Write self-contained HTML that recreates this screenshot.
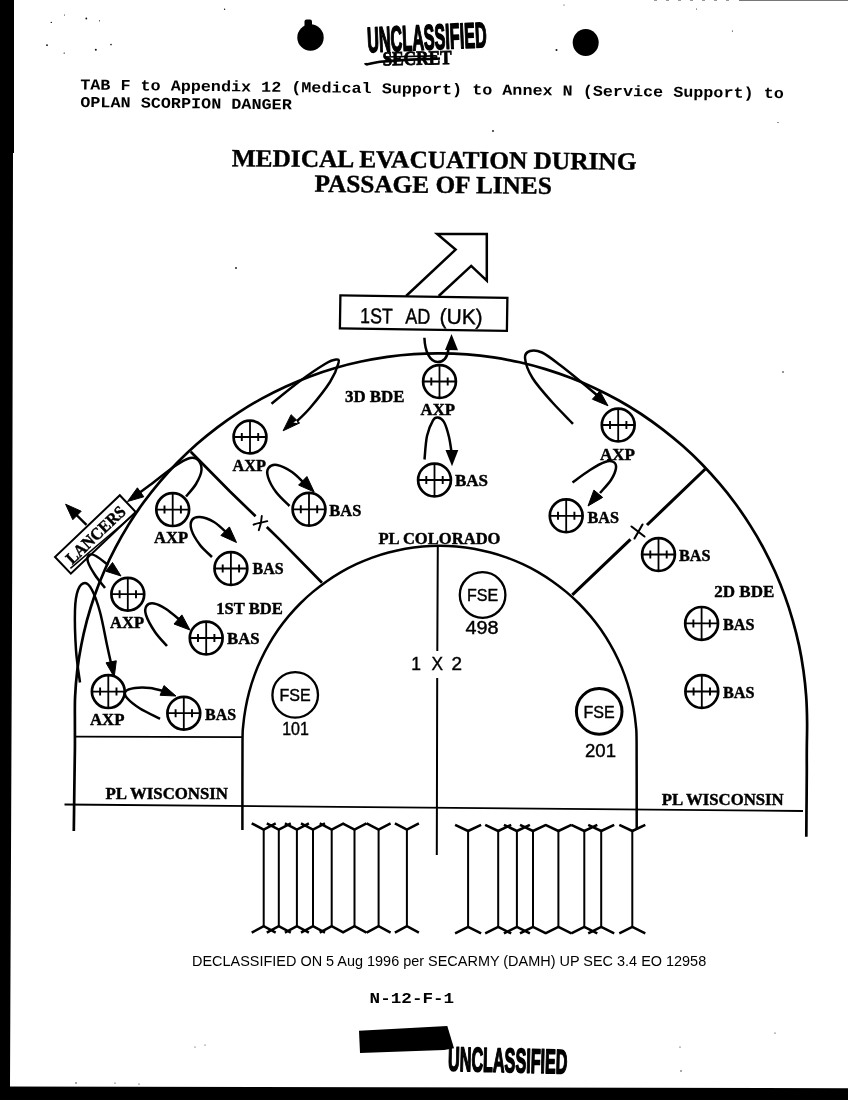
<!DOCTYPE html>
<html lang="en"><head><meta charset="utf-8"><title>Medical Evacuation During Passage of Lines</title>
<style>html,body{margin:0;padding:0;background:#fff}svg{display:block;will-change:transform}text{fill:#000}</style></head>
<body>
<svg width="848" height="1100" viewBox="0 0 848 1100">
<rect width="848" height="1100" fill="#fff"/>
<polygon points="0,0 14,0 14,153 13,153 12.3,550 10,1087 0,1087" fill="#000"/>
<polygon points="0,1086.5 848,1088.3 848,1100 0,1100" fill="#000"/>
<circle cx="310.5" cy="37.5" r="13.2" fill="#000"/><rect x="304.5" y="19.5" width="7.5" height="8" rx="2" fill="#000"/>
<ellipse cx="585.7" cy="42.5" rx="13" ry="13.5" fill="#000"/>
<g transform="rotate(-2.5 367.5 53)">
<text x="367.8" y="52.2" font-family="'Liberation Sans',Arial,sans-serif" font-size="35.5" font-weight="bold" text-anchor="start" textLength="119.5" lengthAdjust="spacingAndGlyphs" stroke="#000" stroke-width="1.7" stroke-linejoin="round">UNCLASSIFIED</text>
</g>
<g transform="rotate(-1.2 416 58)">
<text x="382.5" y="64.8" font-family="'Liberation Serif','Times New Roman',serif" font-size="20.0" font-weight="bold" text-anchor="start" textLength="69.0" lengthAdjust="spacingAndGlyphs" stroke="#000" stroke-width="0.8">SECRET</text>
<path d="M365 62 C366 65 370 62 380 61 C400 59.5 420 59.5 440 59" stroke="#000" stroke-width="2.6" fill="none"/>
<path d="M384 56.3 H436" stroke="#000" stroke-width="1.6" fill="none"/>
</g>
<g transform="rotate(0.7 81 89.5)">
<text x="80.2" y="89.5" font-family="'Liberation Mono','Courier New',monospace" font-size="15.2" font-weight="bold" text-anchor="start" textLength="703.6" lengthAdjust="spacingAndGlyphs" >TAB F to Appendix 12 (Medical Support) to Annex N (Service Support) to</text>
<text x="80.4" y="106.9" font-family="'Liberation Mono','Courier New',monospace" font-size="15.2" font-weight="bold" text-anchor="start" textLength="211.6" lengthAdjust="spacingAndGlyphs" >OPLAN SCORPION DANGER</text>
</g>
<g transform="rotate(0.5 232 166)">
<text x="231.7" y="166.2" font-family="'Liberation Serif','Times New Roman',serif" font-size="24.8" font-weight="bold" text-anchor="start" textLength="404.7" lengthAdjust="spacingAndGlyphs" stroke="#000" stroke-width="0.4">MEDICAL EVACUATION DURING</text>
<text x="314.7" y="191.1" font-family="'Liberation Serif','Times New Roman',serif" font-size="24.8" font-weight="bold" text-anchor="start" textLength="237.3" lengthAdjust="spacingAndGlyphs" stroke="#000" stroke-width="0.4">PASSAGE OF LINES</text>
</g>
<path d="M406.1 296 L455.6 249.6 L437.2 234 L486.8 234 L486.8 280.7 L471.2 265.9 L438.7 296" fill="none" stroke="#000" stroke-width="2.5" stroke-linejoin="miter"/>
<g transform="rotate(0.85 340 295.4)">
<rect x="340.4" y="295.4" width="167" height="33" fill="#fff" stroke="#000" stroke-width="2.3"/>
<text font-family="'Liberation Sans',Arial,sans-serif" font-size="21.5" stroke="#000" stroke-width="0.4"><tspan x="360.4" y="322.8" textLength="32.5" lengthAdjust="spacingAndGlyphs">1ST</tspan> <tspan x="405.6" y="322.6" textLength="25" lengthAdjust="spacingAndGlyphs">AD</tspan> <tspan x="440" y="322.2" textLength="43" lengthAdjust="spacingAndGlyphs">(UK)</tspan></text>
</g>
<path d="M73.8 831.0 C73.8 825.8 74.1 810.2 74.2 800.0 C74.3 789.8 74.5 778.3 74.6 770.0 C74.7 761.7 74.8 758.0 74.9 750.0 C75.0 742.0 74.9 731.1 74.9 722.2 C74.9 713.3 74.7 705.1 75.1 696.6 C75.5 688.0 76.2 679.5 77.2 670.9 C78.2 662.4 79.5 653.9 81.2 645.4 C82.8 636.9 84.8 628.5 87.0 620.1 C89.3 611.8 91.9 603.5 94.7 595.3 C97.6 587.1 100.8 579.0 104.3 571.0 C107.7 563.0 111.5 555.1 115.6 547.4 C119.6 539.7 124.0 532.1 128.6 524.6 C133.2 517.2 138.1 509.9 143.3 502.8 C148.5 495.7 153.9 488.8 159.6 482.1 C165.3 475.4 171.2 468.8 177.4 462.5 C183.6 456.3 190.0 450.2 196.6 444.3 C203.2 438.5 210.1 432.9 217.1 427.6 C224.2 422.2 231.4 417.1 238.8 412.3 C246.3 407.5 253.9 402.9 261.7 398.6 C269.4 394.4 277.4 390.4 285.4 386.7 C293.5 383.0 301.7 379.5 310.0 376.4 C318.3 373.3 326.8 370.5 335.3 368.0 C343.8 365.5 352.4 363.3 361.1 361.5 C369.8 359.6 378.6 358.1 387.3 356.8 C396.1 355.6 405.0 354.7 413.9 354.1 C422.7 353.5 431.6 353.2 440.5 353.3 C449.4 353.3 458.3 353.7 467.1 354.4 C476.0 355.1 484.8 356.1 493.6 357.4 C502.3 358.7 511.1 360.4 519.7 362.3 C528.4 364.3 536.9 366.6 545.4 369.1 C553.9 371.7 562.3 374.6 570.5 377.8 C578.8 380.9 586.9 384.4 594.9 388.2 C602.9 391.9 610.8 396.0 618.5 400.3 C626.2 404.6 633.7 409.2 641.1 414.0 C648.4 418.9 655.6 424.0 662.6 429.3 C669.6 434.7 676.4 440.3 682.9 446.1 C689.5 451.9 695.9 458.0 702.0 464.2 C708.1 470.5 714.0 477.0 719.6 483.7 C725.3 490.3 730.7 497.2 735.9 504.2 C741.0 511.3 745.9 518.5 750.5 525.9 C755.2 533.2 759.6 540.8 763.6 548.4 C767.7 556.1 771.5 563.9 775.1 571.8 C778.6 579.7 781.9 587.8 784.8 595.9 C787.8 604.0 790.4 612.2 792.8 620.5 C795.2 628.8 797.3 637.2 799.1 645.6 C800.9 654.0 802.3 662.5 803.5 671.0 C804.7 679.5 805.6 688.0 806.2 696.6 C806.8 705.1 807.0 713.3 807.1 722.2 C807.2 731.1 806.8 742.0 806.8 750.0 C806.7 758.0 806.8 761.7 806.8 770.0 C806.8 778.3 806.7 788.9 806.6 800.0 C806.5 811.1 806.3 830.7 806.3 836.8" fill="none" stroke="#000" stroke-width="2.7" />
<path d="M242.4 830.0 C242.4 815.5 242.4 760.2 242.5 742.8 C242.6 725.4 242.8 731.3 243.2 725.6 C243.7 719.9 244.5 714.2 245.5 708.6 C246.5 702.9 247.7 697.3 249.2 691.8 C250.7 686.3 252.4 680.8 254.4 675.4 C256.3 670.0 258.5 664.7 261.0 659.5 C263.4 654.3 266.0 649.2 268.9 644.3 C271.8 639.3 274.9 634.5 278.1 629.8 C281.4 625.1 284.9 620.5 288.6 616.1 C292.3 611.8 296.2 607.5 300.2 603.5 C304.3 599.4 308.5 595.5 312.9 591.9 C317.3 588.2 321.8 584.7 326.5 581.4 C331.2 578.1 336.1 575.0 341.0 572.1 C346.0 569.3 351.1 566.6 356.3 564.2 C361.5 561.8 366.8 559.6 372.2 557.6 C377.5 555.7 383.0 553.9 388.5 552.5 C394.1 551.0 399.7 549.7 405.3 548.7 C411.0 547.7 416.7 547.0 422.4 546.5 C428.1 546.0 433.8 545.8 439.6 545.8 C445.3 545.8 451.0 546.0 456.7 546.5 C462.4 547.0 468.1 547.7 473.8 548.7 C479.4 549.7 485.0 551.0 490.6 552.5 C496.1 553.9 501.6 555.7 506.9 557.6 C512.3 559.6 517.6 561.8 522.8 564.2 C528.0 566.6 533.1 569.3 538.1 572.1 C543.0 575.0 547.9 578.1 552.6 581.4 C557.3 584.7 561.8 588.2 566.2 591.9 C570.6 595.5 574.8 599.4 578.9 603.5 C582.9 607.5 586.8 611.8 590.5 616.1 C594.2 620.5 597.7 625.1 601.0 629.8 C604.2 634.5 607.3 639.3 610.2 644.3 C613.1 649.2 615.7 654.3 618.1 659.5 C620.6 664.7 622.8 670.0 624.7 675.4 C626.7 680.8 628.4 686.3 629.9 691.8 C631.4 697.3 632.6 702.9 633.6 708.6 C634.6 714.2 635.4 719.9 635.9 725.6 C636.3 731.3 636.5 725.7 636.6 742.8 C636.7 759.9 636.7 813.8 636.7 828.0" fill="none" stroke="#000" stroke-width="2.5" />
<path d="M437.8 545 L437.3 651 M437.2 678 L436.8 855" fill="none" stroke="#000" stroke-width="2" />
<path d="M64.5 804.5 L803 811" fill="none" stroke="#000" stroke-width="1.8" />
<path d="M75 736.6 L243 737.2" fill="none" stroke="#000" stroke-width="1.7" />
<path d="M190.75 451.7 L230 491.5 L255.6 516.3 M266.8 527 L280 539.9 L322 582.8" fill="none" stroke="#000" stroke-width="2.7" />
<path d="M253.6 524.7 C258 522.5 263 522.5 267.3 521.2 M261.8 516 C261.5 521 260.5 526 258.8 530.2" fill="none" stroke="#000" stroke-width="1.9" stroke-linecap="round"/>
<path d="M705.3 469 L647 525 M630.5 539.3 L572.3 594.8" fill="none" stroke="#000" stroke-width="3.1" />
<path d="M631.5 526.5 L644.5 536.5 M642.5 524.5 L634.5 538.5" fill="none" stroke="#000" stroke-width="2.1" stroke-linecap="round"/>
<g transform="translate(439.5 381.5)"><circle r="16.4" fill="none" stroke="#000" stroke-width="2.7"/><path d="M0 -16.4 V16.4 M-16.4 0 H16.4" stroke="#000" stroke-width="1.8" fill="none"/><path d="M-8.2 -4 V4 M8.2 -4 V4" stroke="#000" stroke-width="1.9" fill="none"/></g>
<g transform="translate(250.0 437.0)"><circle r="16.4" fill="none" stroke="#000" stroke-width="2.7"/><path d="M0 -16.4 V16.4 M-16.4 0 H16.4" stroke="#000" stroke-width="1.8" fill="none"/><path d="M-8.2 -4 V4 M8.2 -4 V4" stroke="#000" stroke-width="1.9" fill="none"/></g>
<g transform="translate(309.0 509.3)"><circle r="16.4" fill="none" stroke="#000" stroke-width="2.7"/><path d="M0 -16.4 V16.4 M-16.4 0 H16.4" stroke="#000" stroke-width="1.8" fill="none"/><path d="M-8.2 -4 V4 M8.2 -4 V4" stroke="#000" stroke-width="1.9" fill="none"/></g>
<g transform="translate(172.7 509.6)"><circle r="16.4" fill="none" stroke="#000" stroke-width="2.7"/><path d="M0 -16.4 V16.4 M-16.4 0 H16.4" stroke="#000" stroke-width="1.8" fill="none"/><path d="M-8.2 -4 V4 M8.2 -4 V4" stroke="#000" stroke-width="1.9" fill="none"/></g>
<g transform="translate(230.9 568.5)"><circle r="16.4" fill="none" stroke="#000" stroke-width="2.7"/><path d="M0 -16.4 V16.4 M-16.4 0 H16.4" stroke="#000" stroke-width="1.8" fill="none"/><path d="M-8.2 -4 V4 M8.2 -4 V4" stroke="#000" stroke-width="1.9" fill="none"/></g>
<g transform="translate(127.8 594.2)"><circle r="16.4" fill="none" stroke="#000" stroke-width="2.7"/><path d="M0 -16.4 V16.4 M-16.4 0 H16.4" stroke="#000" stroke-width="1.8" fill="none"/><path d="M-8.2 -4 V4 M8.2 -4 V4" stroke="#000" stroke-width="1.9" fill="none"/></g>
<g transform="translate(206.2 638.0)"><circle r="16.4" fill="none" stroke="#000" stroke-width="2.7"/><path d="M0 -16.4 V16.4 M-16.4 0 H16.4" stroke="#000" stroke-width="1.8" fill="none"/><path d="M-8.2 -4 V4 M8.2 -4 V4" stroke="#000" stroke-width="1.9" fill="none"/></g>
<g transform="translate(108.3 691.6)"><circle r="16.4" fill="none" stroke="#000" stroke-width="2.7"/><path d="M0 -16.4 V16.4 M-16.4 0 H16.4" stroke="#000" stroke-width="1.8" fill="none"/><path d="M-8.2 -4 V4 M8.2 -4 V4" stroke="#000" stroke-width="1.9" fill="none"/></g>
<g transform="translate(183.8 713.2)"><circle r="16.4" fill="none" stroke="#000" stroke-width="2.7"/><path d="M0 -16.4 V16.4 M-16.4 0 H16.4" stroke="#000" stroke-width="1.8" fill="none"/><path d="M-8.2 -4 V4 M8.2 -4 V4" stroke="#000" stroke-width="1.9" fill="none"/></g>
<g transform="translate(434.5 480.0)"><circle r="16.4" fill="none" stroke="#000" stroke-width="2.7"/><path d="M0 -16.4 V16.4 M-16.4 0 H16.4" stroke="#000" stroke-width="1.8" fill="none"/><path d="M-8.2 -4 V4 M8.2 -4 V4" stroke="#000" stroke-width="1.9" fill="none"/></g>
<g transform="translate(618.2 425.0)"><circle r="16.4" fill="none" stroke="#000" stroke-width="2.7"/><path d="M0 -16.4 V16.4 M-16.4 0 H16.4" stroke="#000" stroke-width="1.8" fill="none"/><path d="M-8.2 -4 V4 M8.2 -4 V4" stroke="#000" stroke-width="1.9" fill="none"/></g>
<g transform="translate(566.2 515.8)"><circle r="16.4" fill="none" stroke="#000" stroke-width="2.7"/><path d="M0 -16.4 V16.4 M-16.4 0 H16.4" stroke="#000" stroke-width="1.8" fill="none"/><path d="M-8.2 -4 V4 M8.2 -4 V4" stroke="#000" stroke-width="1.9" fill="none"/></g>
<g transform="translate(658.5 554.5)"><circle r="16.4" fill="none" stroke="#000" stroke-width="2.7"/><path d="M0 -16.4 V16.4 M-16.4 0 H16.4" stroke="#000" stroke-width="1.8" fill="none"/><path d="M-8.2 -4 V4 M8.2 -4 V4" stroke="#000" stroke-width="1.9" fill="none"/></g>
<g transform="translate(701.6 623.4)"><circle r="16.4" fill="none" stroke="#000" stroke-width="2.7"/><path d="M0 -16.4 V16.4 M-16.4 0 H16.4" stroke="#000" stroke-width="1.8" fill="none"/><path d="M-8.2 -4 V4 M8.2 -4 V4" stroke="#000" stroke-width="1.9" fill="none"/></g>
<g transform="translate(701.8 691.5)"><circle r="16.4" fill="none" stroke="#000" stroke-width="2.7"/><path d="M0 -16.4 V16.4 M-16.4 0 H16.4" stroke="#000" stroke-width="1.8" fill="none"/><path d="M-8.2 -4 V4 M8.2 -4 V4" stroke="#000" stroke-width="1.9" fill="none"/></g>
<text x="420.6" y="415.0" font-family="'Liberation Serif','Times New Roman',serif" font-size="16.6" font-weight="bold" text-anchor="start" textLength="34.5" lengthAdjust="spacingAndGlyphs" stroke="#000" stroke-width="0.45">AXP</text>
<text x="232.5" y="471.0" font-family="'Liberation Serif','Times New Roman',serif" font-size="16.6" font-weight="bold" text-anchor="start" textLength="33.5" lengthAdjust="spacingAndGlyphs" stroke="#000" stroke-width="0.45">AXP</text>
<text x="329.3" y="516.0" font-family="'Liberation Serif','Times New Roman',serif" font-size="16.6" font-weight="bold" text-anchor="start" textLength="32.0" lengthAdjust="spacingAndGlyphs" stroke="#000" stroke-width="0.45">BAS</text>
<text x="345.0" y="401.8" font-family="'Liberation Serif','Times New Roman',serif" font-size="17.3" font-weight="bold" text-anchor="start" textLength="59.5" lengthAdjust="spacingAndGlyphs" stroke="#000" stroke-width="0.45">3D BDE</text>
<text x="378.5" y="544.3" font-family="'Liberation Serif','Times New Roman',serif" font-size="17.3" font-weight="bold" text-anchor="start" textLength="122.0" lengthAdjust="spacingAndGlyphs" stroke="#000" stroke-width="0.45">PL COLORADO</text>
<text x="154.0" y="543.0" font-family="'Liberation Serif','Times New Roman',serif" font-size="16.6" font-weight="bold" text-anchor="start" textLength="34.0" lengthAdjust="spacingAndGlyphs" stroke="#000" stroke-width="0.45">AXP</text>
<text x="252.5" y="574.0" font-family="'Liberation Serif','Times New Roman',serif" font-size="16.6" font-weight="bold" text-anchor="start" textLength="31.0" lengthAdjust="spacingAndGlyphs" stroke="#000" stroke-width="0.45">BAS</text>
<text x="110.0" y="628.0" font-family="'Liberation Serif','Times New Roman',serif" font-size="16.6" font-weight="bold" text-anchor="start" textLength="34.0" lengthAdjust="spacingAndGlyphs" stroke="#000" stroke-width="0.45">AXP</text>
<text x="227.0" y="644.0" font-family="'Liberation Serif','Times New Roman',serif" font-size="16.6" font-weight="bold" text-anchor="start" textLength="32.5" lengthAdjust="spacingAndGlyphs" stroke="#000" stroke-width="0.45">BAS</text>
<text x="216.3" y="614.0" font-family="'Liberation Serif','Times New Roman',serif" font-size="17.3" font-weight="bold" text-anchor="start" textLength="66.5" lengthAdjust="spacingAndGlyphs" stroke="#000" stroke-width="0.45">1ST BDE</text>
<text x="90.0" y="725.0" font-family="'Liberation Serif','Times New Roman',serif" font-size="16.6" font-weight="bold" text-anchor="start" textLength="34.5" lengthAdjust="spacingAndGlyphs" stroke="#000" stroke-width="0.45">AXP</text>
<text x="205.0" y="719.5" font-family="'Liberation Serif','Times New Roman',serif" font-size="16.6" font-weight="bold" text-anchor="start" textLength="31.0" lengthAdjust="spacingAndGlyphs" stroke="#000" stroke-width="0.45">BAS</text>
<text x="455.0" y="486.3" font-family="'Liberation Serif','Times New Roman',serif" font-size="16.6" font-weight="bold" text-anchor="start" textLength="33.0" lengthAdjust="spacingAndGlyphs" stroke="#000" stroke-width="0.45">BAS</text>
<text x="600.0" y="460.0" font-family="'Liberation Serif','Times New Roman',serif" font-size="16.6" font-weight="bold" text-anchor="start" textLength="35.0" lengthAdjust="spacingAndGlyphs" stroke="#000" stroke-width="0.45">AXP</text>
<text x="587.5" y="522.5" font-family="'Liberation Serif','Times New Roman',serif" font-size="16.6" font-weight="bold" text-anchor="start" textLength="31.5" lengthAdjust="spacingAndGlyphs" stroke="#000" stroke-width="0.45">BAS</text>
<text x="679.0" y="560.6" font-family="'Liberation Serif','Times New Roman',serif" font-size="16.6" font-weight="bold" text-anchor="start" textLength="31.5" lengthAdjust="spacingAndGlyphs" stroke="#000" stroke-width="0.45">BAS</text>
<text x="714.3" y="597.0" font-family="'Liberation Serif','Times New Roman',serif" font-size="17.3" font-weight="bold" text-anchor="start" textLength="60.0" lengthAdjust="spacingAndGlyphs" stroke="#000" stroke-width="0.45">2D BDE</text>
<text x="723.0" y="629.5" font-family="'Liberation Serif','Times New Roman',serif" font-size="16.6" font-weight="bold" text-anchor="start" textLength="31.5" lengthAdjust="spacingAndGlyphs" stroke="#000" stroke-width="0.45">BAS</text>
<text x="723.0" y="698.0" font-family="'Liberation Serif','Times New Roman',serif" font-size="16.6" font-weight="bold" text-anchor="start" textLength="31.5" lengthAdjust="spacingAndGlyphs" stroke="#000" stroke-width="0.45">BAS</text>
<text x="105.5" y="798.8" font-family="'Liberation Serif','Times New Roman',serif" font-size="17.3" font-weight="bold" text-anchor="start" textLength="122.5" lengthAdjust="spacingAndGlyphs" stroke="#000" stroke-width="0.45">PL WISCONSIN</text>
<text x="661.7" y="805.0" font-family="'Liberation Serif','Times New Roman',serif" font-size="17.3" font-weight="bold" text-anchor="start" textLength="122.0" lengthAdjust="spacingAndGlyphs" stroke="#000" stroke-width="0.45">PL WISCONSIN</text>
<circle cx="482.6" cy="595.0" r="22.8" fill="none" stroke="#000" stroke-width="2.3"/>
<text x="466.9" y="601.1" font-family="'Liberation Sans',Arial,sans-serif" font-size="17.0" font-weight="normal" text-anchor="start" textLength="31.2" lengthAdjust="spacingAndGlyphs" stroke="#000" stroke-width="0.4">FSE</text>
<text x="465.5" y="633.6" font-family="'Liberation Sans',Arial,sans-serif" font-size="18.0" font-weight="normal" text-anchor="start" textLength="33.0" lengthAdjust="spacingAndGlyphs" stroke="#000" stroke-width="0.4">498</text>
<circle cx="295.2" cy="694.9" r="22.8" fill="none" stroke="#000" stroke-width="2.3"/>
<text x="279.5" y="701.0" font-family="'Liberation Sans',Arial,sans-serif" font-size="17.0" font-weight="normal" text-anchor="start" textLength="31.2" lengthAdjust="spacingAndGlyphs" stroke="#000" stroke-width="0.4">FSE</text>
<text x="282.2" y="735.3" font-family="'Liberation Sans',Arial,sans-serif" font-size="18.0" font-weight="normal" text-anchor="start" textLength="26.7" lengthAdjust="spacingAndGlyphs" stroke="#000" stroke-width="0.4">101</text>
<circle cx="599.2" cy="711.4" r="22.8" fill="none" stroke="#000" stroke-width="3.0"/>
<text x="583.5" y="717.5" font-family="'Liberation Sans',Arial,sans-serif" font-size="17.0" font-weight="normal" text-anchor="start" textLength="31.2" lengthAdjust="spacingAndGlyphs" stroke="#000" stroke-width="0.4">FSE</text>
<text x="585.0" y="756.8" font-family="'Liberation Sans',Arial,sans-serif" font-size="18.0" font-weight="normal" text-anchor="start" textLength="31.0" lengthAdjust="spacingAndGlyphs" stroke="#000" stroke-width="0.4">201</text>
<text font-family="'Liberation Sans',Arial,sans-serif" font-size="17.5" stroke="#000" stroke-width="0.4"><tspan x="411.3" y="670.3">1</tspan> <tspan x="431.6" y="670.3" textLength="11.5" lengthAdjust="spacingAndGlyphs">X</tspan> <tspan x="451.5" y="670.3" textLength="10.5" lengthAdjust="spacingAndGlyphs">2</tspan></text>
<g transform="translate(55 557) rotate(-43.6)">
<rect x="0" y="0" width="89.5" height="23" fill="#fff" stroke="#000" stroke-width="2"/>
<text x="7.0" y="17.6" font-family="'Liberation Serif','Times New Roman',serif" font-size="17.0" font-weight="bold" text-anchor="start" textLength="75.5" lengthAdjust="spacingAndGlyphs" stroke="#000" stroke-width="0.45">LANCERS</text>
</g>
<path d="M86.5 524.8 L74 512.5" fill="none" stroke="#000" stroke-width="2.4" />
<polygon points="65.6,504.2 81.2,511.2 72.8,519.7" fill="#000" stroke="#000" stroke-width="1" stroke-linejoin="miter"/>
<path d="M133.4 514.8 L70.4 568.4" fill="none" stroke="#000" stroke-width="1.5" />
<path d="M424.4 337.7 C425 352 430 362 437.7 362 C444 362 447.5 357 448.5 349" fill="none" stroke="#000" stroke-width="2.5" />
<polygon points="451.5,334 445,350 458,350.3" fill="#000"/>
<path d="M271.5 403.8 C276.2 400.0 291.1 387.6 300.0 381.0 C308.9 374.4 319.0 367.6 325.0 364.0 C331.0 360.4 333.8 359.7 336.0 359.5 C338.2 359.3 339.5 359.2 338.5 363.0 C337.5 366.8 334.8 374.5 330.0 382.0 C325.2 389.5 315.8 401.2 310.0 408.0 C304.2 414.8 297.5 420.5 295.0 423.0" fill="none" stroke="#000" stroke-width="2.5" />
<polygon points="283.1,430.8 291.1,414.7 299.6,423" fill="#000" stroke="#000" stroke-width="1"/><polygon points="293.3,422.6 296.6,420.6 297.6,423.2" fill="#fff"/>
<path d="M289.5 506.0 C287.2 503.7 279.6 496.8 276.0 492.0 C272.4 487.2 269.2 481.0 268.0 477.0 C266.8 473.0 267.0 470.0 268.5 468.0 C270.0 466.0 273.1 464.3 277.0 465.0 C280.9 465.7 287.3 468.8 292.0 472.0 C296.7 475.2 302.8 482.0 305.0 484.0" fill="none" stroke="#000" stroke-width="2.5" />
<polygon points="314.2,492.0 298.6,485.1 306.9,476.5" fill="#000" stroke="#000" stroke-width="1" stroke-linejoin="miter"/>
<path d="M186.0 496.5 C187.7 494.4 193.4 488.4 196.0 484.0 C198.6 479.6 201.2 474.0 201.5 470.0 C201.8 466.0 199.9 462.0 198.0 460.0 C196.1 458.0 193.8 457.0 190.0 458.0 C186.2 459.0 181.7 461.5 175.0 466.0 C168.3 470.5 156.7 480.0 150.0 485.0 C143.3 490.0 137.5 494.2 135.0 496.0" fill="none" stroke="#000" stroke-width="2.5" />
<polygon points="127.5,501.5 137.4,487.8 143.8,496.8" fill="#000" stroke="#000" stroke-width="1" stroke-linejoin="miter"/>
<path d="M212.0 557.0 C210.0 555.0 203.4 549.5 200.0 545.0 C196.6 540.5 192.8 534.2 191.5 530.0 C190.2 525.8 190.6 522.2 192.0 520.0 C193.4 517.8 196.3 516.7 200.0 517.0 C203.7 517.3 209.3 519.2 214.0 522.0 C218.7 524.8 225.7 532.0 228.0 534.0" fill="none" stroke="#000" stroke-width="2.5" />
<polygon points="236.5,542.5 220.9,535.4 229.4,526.9" fill="#000" stroke="#000" stroke-width="1" stroke-linejoin="miter"/>
<path d="M105.0 588.0 C103.3 585.8 97.8 579.3 95.0 575.0 C92.2 570.7 89.0 565.3 88.0 562.0 C87.0 558.7 87.7 556.0 89.0 555.0 C90.3 554.0 92.8 554.3 96.0 556.0 C99.2 557.7 106.0 563.5 108.0 565.0" fill="none" stroke="#000" stroke-width="2.5" />
<polygon points="121.0,576.0 105.8,571.2 112.5,562.5" fill="#000" stroke="#000" stroke-width="1" stroke-linejoin="miter"/>
<path d="M167.0 646.0 C165.0 643.7 158.5 637.2 155.0 632.0 C151.5 626.8 147.4 619.3 146.0 615.0 C144.6 610.7 145.2 607.9 146.5 606.0 C147.8 604.1 150.8 603.0 154.0 603.5 C157.2 604.0 161.7 606.2 166.0 609.0 C170.3 611.8 177.7 618.2 180.0 620.0" fill="none" stroke="#000" stroke-width="2.5" />
<polygon points="190.0,630.0 174.0,624.0 181.9,614.9" fill="#000" stroke="#000" stroke-width="1" stroke-linejoin="miter"/>
<path d="M80.0 682.5 C79.3 677.1 76.8 662.1 76.0 650.0 C75.2 637.9 74.7 620.0 75.0 610.0 C75.3 600.0 76.3 594.5 78.0 590.0 C79.7 585.5 82.7 583.0 85.0 583.0 C87.3 583.0 89.5 585.2 92.0 590.0 C94.5 594.8 97.5 602.8 100.0 612.0 C102.5 621.2 105.2 636.5 107.0 645.0 C108.8 653.5 110.3 660.0 111.0 663.0" fill="none" stroke="#000" stroke-width="2.5" />
<polygon points="114.2,677.0 106.0,662.8 116.3,660.8" fill="#000" stroke="#000" stroke-width="1" stroke-linejoin="miter"/>
<path d="M160.0 718.8 C156.7 717.0 145.5 712.0 140.0 708.5 C134.5 705.0 129.4 700.8 127.0 698.0 C124.6 695.2 124.2 693.2 125.5 691.5 C126.8 689.8 130.9 688.6 135.0 688.0 C139.1 687.4 145.0 687.4 150.0 688.0 C155.0 688.6 162.5 690.9 165.0 691.5" fill="none" stroke="#000" stroke-width="2.5" />
<polygon points="176.0,696.0 160.1,695.3 164.0,685.6" fill="#000" stroke="#000" stroke-width="1" stroke-linejoin="miter"/>
<path d="M424.5 459.5 C424.9 455.6 425.6 442.5 427.0 436.0 C428.4 429.5 431.2 423.4 433.0 420.3 C434.8 417.2 436.2 417.2 438.0 417.5 C439.8 417.8 442.2 418.8 444.0 422.0 C445.8 425.2 447.8 432.0 449.0 437.0 C450.2 442.0 451.1 449.5 451.5 452.0" fill="none" stroke="#000" stroke-width="2.5" />
<polygon points="452,466.3 445.5,450 458.3,450" fill="#000"/>
<path d="M573.0 423.8 C569.5 420.1 558.8 409.6 552.0 402.0 C545.2 394.4 537.0 385.3 532.5 378.0 C528.0 370.7 525.4 362.5 525.0 358.0 C524.6 353.5 527.2 351.9 530.0 351.0 C532.8 350.1 537.0 350.2 542.0 352.5 C547.0 354.8 553.7 360.2 560.0 365.0 C566.3 369.8 573.7 375.8 580.0 381.0 C586.3 386.2 595.0 393.5 598.0 396.0" fill="none" stroke="#000" stroke-width="2.5" />
<polygon points="608.0,405.8 592.4,399.2 599.8,391.0" fill="#000" stroke="#000" stroke-width="1" stroke-linejoin="miter"/>
<path d="M572.5 482.5 C575.4 480.4 584.6 473.4 590.0 470.0 C595.4 466.6 601.1 463.3 605.0 462.0 C608.9 460.7 611.7 461.0 613.5 462.0 C615.3 463.0 616.4 465.0 616.0 468.0 C615.6 471.0 613.7 475.8 611.0 480.0 C608.3 484.2 601.8 490.8 600.0 493.0" fill="none" stroke="#000" stroke-width="2.5" />
<polygon points="588.0,506.0 593.9,490.1 602.7,497.4" fill="#000" stroke="#000" stroke-width="1" stroke-linejoin="miter"/>
<path d="M251.7 823.3 L263.7 829.5 L275.7 823.3 M251.7 932.6 L263.7 926.2 L275.7 932.6 M266.8 823.3 L278.8 829.5 L290.8 823.3 M266.8 932.6 L278.8 926.2 L290.8 932.6 M284.9 823.3 L296.9 829.5 L308.9 823.3 M284.9 932.6 L296.9 926.2 L308.9 932.6 M301.0 823.3 L313.0 829.5 L325.0 823.3 M301.0 932.6 L313.0 926.2 L325.0 932.6 M319.7 823.3 L331.7 829.5 L343.7 823.3 M319.7 932.6 L331.7 926.2 L343.7 932.6 M342.5 823.3 L354.5 829.5 L366.5 823.3 M342.5 932.6 L354.5 926.2 L366.5 932.6 M366.6 823.3 L378.6 829.5 L390.6 823.3 M366.6 932.6 L378.6 926.2 L390.6 932.6 M394.9 823.3 L406.9 829.5 L418.9 823.3 M394.9 932.6 L406.9 926.2 L418.9 932.6 " fill="none" stroke="#000" stroke-width="2.5" stroke-linejoin="miter"/>
<path d="M263.7 829.5 V926.2 M278.8 829.5 V926.2 M296.9 829.5 V926.2 M313.0 829.5 V926.2 M331.7 829.5 V926.2 M354.5 829.5 V926.2 M378.6 829.5 V926.2 M406.9 829.5 V926.2 " fill="none" stroke="#000" stroke-width="2" />
<path d="M455.1 824.8 L468.1 831.0 L481.1 824.8 M455.1 933.4 L468.1 927.0 L481.1 933.4 M485.2 824.8 L498.2 831.0 L511.2 824.8 M485.2 933.4 L498.2 927.0 L511.2 933.4 M503.9 824.8 L516.9 831.0 L529.9 824.8 M503.9 933.4 L516.9 927.0 L529.9 933.4 M520.0 824.8 L533.0 831.0 L546.0 824.8 M520.0 933.4 L533.0 927.0 L546.0 933.4 M545.4 824.8 L558.4 831.0 L571.4 824.8 M545.4 933.4 L558.4 927.0 L571.4 933.4 M571.3 824.8 L584.3 831.0 L597.3 824.8 M571.3 933.4 L584.3 927.0 L597.3 933.4 M588.2 824.8 L601.2 831.0 L614.2 824.8 M588.2 933.4 L601.2 927.0 L614.2 933.4 M619.3 824.8 L632.3 831.0 L645.3 824.8 M619.3 933.4 L632.3 927.0 L645.3 933.4 " fill="none" stroke="#000" stroke-width="2.5" stroke-linejoin="miter"/>
<path d="M468.1 831.0 V927.0 M498.2 831.0 V927.0 M516.9 831.0 V927.0 M533.0 831.0 V927.0 M558.4 831.0 V927.0 M584.3 831.0 V927.0 M601.2 831.0 V927.0 M632.3 831.0 V927.0 " fill="none" stroke="#000" stroke-width="2" />
<text x="192.0" y="966.4" font-family="'Liberation Sans',Arial,sans-serif" font-size="14.5" font-weight="normal" text-anchor="start" textLength="514.2" lengthAdjust="spacingAndGlyphs" >DECLASSIFIED ON 5 Aug 1996 per SECARMY (DAMH) UP SEC 3.4 EO 12958</text>
<text x="369.6" y="1003.4" font-family="'Liberation Mono','Courier New',monospace" font-size="15.2" font-weight="bold" text-anchor="start" textLength="84.6" lengthAdjust="spacingAndGlyphs" >N-12-F-1</text>
<polygon points="359,1030.8 447.3,1026 454,1048.3 444.2,1049.9 360,1053" fill="#000"/>
<g transform="rotate(1.4 447 1070)">
<text x="447.8" y="1070.6" font-family="'Liberation Sans',Arial,sans-serif" font-size="34.0" font-weight="bold" text-anchor="start" textLength="119.5" lengthAdjust="spacingAndGlyphs" stroke="#000" stroke-width="1.7" stroke-linejoin="round">UNCLASSIFIED</text>
</g>
<circle cx="51.3" cy="22.4" r="0.7" fill="#111"/>
<circle cx="64.5" cy="14.9" r="0.5" fill="#111"/>
<circle cx="86.3" cy="18.5" r="0.9" fill="#111"/>
<circle cx="99.5" cy="20.8" r="0.6" fill="#111"/>
<circle cx="47.0" cy="45.2" r="0.9" fill="#111"/>
<circle cx="64.2" cy="53.1" r="0.7" fill="#111"/>
<circle cx="95.8" cy="49.8" r="1.0" fill="#111"/>
<circle cx="111.0" cy="44.6" r="0.8" fill="#111"/>
<circle cx="224.6" cy="9.2" r="0.7" fill="#111"/>
<circle cx="556.5" cy="50.0" r="1.0" fill="#111"/>
<circle cx="493.0" cy="131.0" r="0.9" fill="#111"/>
<circle cx="564.0" cy="5.0" r="0.5" fill="#111"/>
<circle cx="696.5" cy="9.0" r="0.5" fill="#111"/>
<circle cx="732.5" cy="31.0" r="0.6" fill="#111"/>
<circle cx="778.0" cy="122.5" r="0.6" fill="#111"/>
<circle cx="236.0" cy="268.0" r="0.9" fill="#111"/>
<circle cx="783.0" cy="372.0" r="0.8" fill="#111"/>
<circle cx="195.0" cy="1047.0" r="0.5" fill="#111"/>
<circle cx="205.0" cy="1045.0" r="0.5" fill="#111"/>
<circle cx="680.0" cy="1047.0" r="0.6" fill="#111"/>
<circle cx="775.0" cy="1033.0" r="0.6" fill="#111"/>
<circle cx="681.0" cy="1071.0" r="0.7" fill="#111"/>
<circle cx="76.0" cy="1083.0" r="0.7" fill="#111"/>
<circle cx="115.0" cy="1083.0" r="0.6" fill="#111"/>
<circle cx="139.0" cy="1084.0" r="0.6" fill="#111"/>
<path d="M739 0.5 H848" stroke="#777" stroke-width="1.2"/><path d="M654 0.5 H734" stroke="#999" stroke-width="1" stroke-dasharray="3 9"/>
</svg>
</body></html>
